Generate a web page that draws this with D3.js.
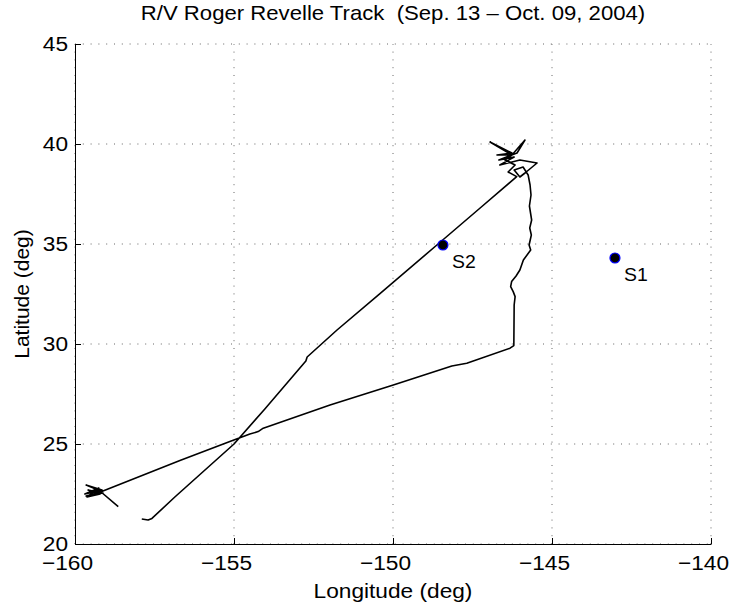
<!DOCTYPE html>
<html>
<head>
<meta charset="utf-8">
<title>R/V Roger Revelle Track</title>
<style>
body { margin: 0; background: #fff; }
text { font-family: "Liberation Sans", Arial, Helvetica, sans-serif; fill: #000; }
.grid line { stroke: #666; stroke-width: 1; stroke-dasharray: 1,6.8; }
.track { fill: none; stroke: #000; stroke-width: 1.6px; stroke-linejoin: round; }
</style>
<script src="https://d3js.org/d3.v7.min.js"></script>
</head>
<body>
<div id="chart"></div>
<script>
// ship track (lon, lat in degrees)
var trackLon = [
  -157.90, -157.70, -157.58, -156.86, -155.00, -154.03, -152.74, -152.70, -151.76, -150.41,
  -148.62, -147.26, -146.11,
  -146.38, -146.16, -146.48, -146.26, -146.73, -146.26, -146.95, -146.26, -145.85, -146.10,
  -146.67, -146.19, -146.64, -146.01, -145.47, -145.85, -146.01, -146.19, -145.91, -145.75,
  -145.69,
  -145.66, -145.71, -145.64, -145.70, -145.65, -145.72, -145.67, -145.90, -146.01, -146.13,
  -146.27, -146.30, -146.22, -146.16, -146.19, -146.20, -146.32, -147.68, -148.15, -149.99,
  -151.98, -154.08, -154.24, -154.50, -155.13, -156.70, -159.16,
  -159.65, -159.15, -159.69, -159.25, -159.62, -159.21, -159.59, -159.12, -159.65, -159.18,
  -158.64
];
var trackLat = [
  21.25, 21.20, 21.28, 22.35, 25.00, 26.75, 29.15, 29.35, 30.70, 32.52,
  34.95, 36.80, 38.37,
  38.60, 38.95, 39.20, 39.45, 39.45, 39.55, 40.10, 39.45, 40.20, 39.55,
  39.20, 39.35, 38.95, 39.20, 39.05, 38.55, 38.35, 38.70, 38.85, 38.45,
  37.95,
  37.45, 36.90, 36.20, 35.80, 35.45, 34.95, 34.70, 34.20, 33.70, 33.40,
  33.12, 32.87, 32.62, 32.37, 31.95, 29.92, 29.79, 29.04, 28.90, 27.95,
  26.95, 25.79, 25.62, 25.50, 25.12, 24.17, 22.62,
  22.95, 22.70, 22.50, 22.80, 22.35, 22.50, 22.70, 22.55, 22.40, 22.60,
  21.87
];

var stationNames = ["S1", "S2"];
var stationLon = [-143.02, -148.43];
var stationLat = [34.30, 34.95];

var xTicks = [-160, -155, -150, -145, -140];
var yTicks = [20, 25, 30, 35, 40, 45];

var W = 734, H = 607;
var margin = {top: 44, right: 23, bottom: 63, left: 75};
var sx = 1.08; // the original text is drawn a little wide

var svg = d3.select("#chart").append("svg")
  .attr("width", W)
  .attr("height", H);

var x = d3.scaleLinear().domain([-160, -140]).range([margin.left, W - margin.right]);
var y = d3.scaleLinear().domain([20, 45]).range([H - margin.bottom, margin.top]);

// dotted grid
var grid = svg.append("g").attr("class", "grid");
grid.selectAll(".vx").data(xTicks).enter().append("line")
  .attr("x1", function(d) { return x(d); })
  .attr("x2", function(d) { return x(d); })
  .attr("y1", y(20))
  .attr("y2", y(45));
grid.selectAll(".hy").data(yTicks).enter().append("line")
  .attr("x1", x(-160))
  .attr("x2", x(-140))
  .attr("y1", function(d) { return y(d); })
  .attr("y2", function(d) { return y(d); });

var fmt = function(d) { return d < 0 ? "\u2212" + Math.abs(d) : String(d); };

// axes, ticks pointing inward
var xAxis = svg.append("g")
  .attr("transform", "translate(0," + y(20) + ")")
  .call(d3.axisBottom(x).tickValues(xTicks).tickSizeInner(-6).tickSizeOuter(0).tickPadding(11).tickFormat(fmt));
var yAxis = svg.append("g")
  .attr("transform", "translate(" + x(-160) + ",0)")
  .call(d3.axisLeft(y).tickValues(yTicks).tickSizeInner(-6).tickSizeOuter(0).tickPadding(10).tickFormat(fmt));

[xAxis, yAxis].forEach(function(a) {
  a.select(".domain").attr("stroke", "#000").attr("stroke-width", 1);
  a.selectAll(".tick line").attr("stroke", "#000");
  a.selectAll(".tick text")
    .attr("font-family", "Liberation Sans, Arial, sans-serif")
    .attr("font-size", 21)
    .attr("fill", "#000")
    .attr("transform", "scale(" + sx + ",1)");
});
yAxis.selectAll(".tick text").attr("x", -7 / sx);
// the numbers sit a bit left of their ticks, as in the original
xAxis.selectAll(".tick text").attr("x", -8 / sx);

// track
var pts = trackLon.map(function(d, i) { return [d, trackLat[i]]; });
var line = d3.line()
  .x(function(d) { return x(d[0]); })
  .y(function(d) { return y(d[1]); });

svg.append("path")
  .datum(pts)
  .attr("class", "track")
  .attr("d", line);

// stations
var st = svg.selectAll(".station").data(stationNames).enter().append("g");
st.append("circle")
  .attr("cx", function(d, i) { return x(stationLon[i]); })
  .attr("cy", function(d, i) { return y(stationLat[i]); })
  .attr("r", 5)
  .attr("fill", "#000")
  .attr("stroke", "#0000ff")
  .attr("stroke-width", 1.2);
st.append("text")
  .attr("transform", function(d, i) {
    return "translate(" + (x(stationLon[i]) + 9) + "," + (y(stationLat[i]) + 23) + ") scale(" + sx + ",1)";
  })
  .attr("font-size", 18)
  .text(function(d) { return d; });

// labels
svg.append("text")
  .attr("transform", "translate(" + (x(-160) + x(-140)) / 2 + ",20) scale(" + sx + ",1)")
  .attr("text-anchor", "middle")
  .attr("font-size", 20.5)
  .text("R/V Roger Revelle Track\u00a0\u00a0(Sep. 13 \u2013 Oct. 09, 2004)");

svg.append("text")
  .attr("transform", "translate(" + (x(-160) + x(-140)) / 2 + ",598) scale(" + sx + ",1)")
  .attr("text-anchor", "middle")
  .attr("font-size", 21)
  .text("Longitude (deg)");

svg.append("text")
  .attr("transform", "translate(29," + (y(20) + y(45)) / 2 + ") rotate(-90)")
  .attr("text-anchor", "middle")
  .attr("font-size", 21)
  .text("Latitude (deg)");
</script>
</body>
</html>
